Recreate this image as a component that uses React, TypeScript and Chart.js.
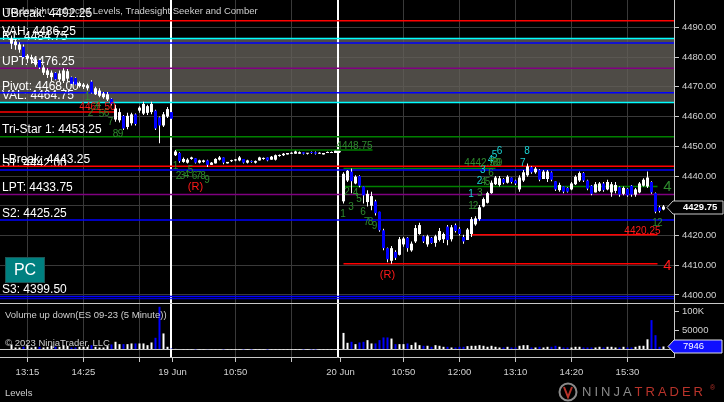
import { useEffect, useRef } from 'react';
import { Chart, registerables } from 'chart.js';

Chart.register(...registerables);

const FONT = "Arial, 'Liberation Sans', Helvetica, sans-serif";

// slot = 5-minute bar index, slot 0 = 16 Jun 13:15 bar
const X_MIN = -6.875;
const X_MAX = X_MIN + 674 / 4;

// [open, high, low, close]
const day1Start = -4;
const day1Bars = [
  [4484.5, 4487.25, 4482.75, 4486.25], [4484.0, 4486.0, 4482.5, 4485.25], [4482.5, 4485.0, 4481.5, 4484.25],
  [4483.5, 4484.25, 4479.5, 4480.0], [4479.5, 4481.0, 4478.0, 4480.5], [4479.25, 4480.75, 4477.75, 4480.0],
  [4477.5, 4479.75, 4476.75, 4479.25], [4479.0, 4479.5, 4476.0, 4476.5], [4474.75, 4477.25, 4474.0, 4476.5],
  [4474.0, 4476.25, 4473.0, 4475.5], [4473.25, 4475.5, 4472.0, 4474.75], [4474.75, 4475.0, 4472.25, 4472.5],
  [4472.5, 4475.5, 4471.75, 4474.5], [4472.0, 4476.25, 4471.25, 4475.5], [4472.75, 4476.0, 4471.75, 4475.25],
  [4473.25, 4473.5, 4470.5, 4471.0], [4473.0, 4473.25, 4470.5, 4470.75], [4470.25, 4471.75, 4469.75, 4471.25],
  [4470.0, 4471.25, 4469.25, 4470.75], [4469.5, 4471.0, 4468.75, 4470.5], [4471.75, 4472.25, 4467.75, 4468.0],
  [4467.5, 4470.0, 4467.25, 4469.5], [4467.0, 4469.5, 4466.5, 4468.75], [4466.5, 4468.25, 4466.0, 4467.75],
  [4465.75, 4468.25, 4465.25, 4467.5], [4466.0, 4466.25, 4463.75, 4464.25], [4459.0, 4464.0, 4458.25, 4462.75],
  [4458.75, 4462.75, 4458.0, 4461.5], [4460.25, 4460.5, 4455.5, 4456.0], [4456.5, 4461.25, 4455.75, 4460.25],
  [4457.75, 4461.25, 4457.0, 4460.75], [4460.75, 4461.0, 4457.0, 4457.5], [4462.0, 4463.5, 4461.25, 4463.0],
  [4461.0, 4465.0, 4460.5, 4464.25], [4461.25, 4464.0, 4460.5, 4463.5], [4461.5, 4465.0, 4460.75, 4464.25],
  [4462.0, 4462.25, 4455.5, 4456.0], [4459.75, 4460.0, 4451.0, 4457.0], [4457.0, 4461.5, 4456.5, 4460.75],
  [4460.0, 4463.25, 4459.5, 4462.5], [4461.5, 4461.75, 4458.75, 4459.25],
];

const day2Start = 37;
const day2Bars = [
  [4447.0, 4448.75, 4446.75, 4448.25], [4447.75, 4448.0, 4444.5, 4445.0], [4444.75, 4446.25, 4444.5, 4445.75],
  [4444.5, 4446.0, 4444.25, 4445.5], [4445.75, 4446.5, 4445.5, 4446.25], [4446.0, 4446.0, 4444.25, 4444.5],
  [4444.5, 4445.5, 4444.25, 4445.25], [4444.75, 4445.5, 4444.5, 4445.25], [4445.25, 4445.5, 4443.0, 4443.75],
  [4443.75, 4444.75, 4443.75, 4444.5], [4444.25, 4446.0, 4444.25, 4445.75], [4445.5, 4446.75, 4445.25, 4446.25],
  [4446.25, 4446.25, 4444.0, 4444.5], [4444.25, 4444.75, 4444.25, 4444.75], [4445.0, 4445.5, 4444.75, 4445.25],
  [4445.25, 4445.75, 4445.0, 4445.5], [4445.25, 4446.75, 4445.0, 4446.25], [4445.75, 4445.75, 4444.25, 4444.5],
  [4444.5, 4445.5, 4444.25, 4445.25], [4445.0, 4445.25, 4444.5, 4444.75], [4444.5, 4445.25, 4444.25, 4445.0],
  [4445.25, 4446.5, 4445.25, 4446.25], [4445.75, 4446.25, 4445.5, 4446.0], [4446.25, 4446.25, 4445.0, 4445.25],
  [4445.5, 4446.75, 4445.5, 4446.5], [4445.5, 4447.25, 4445.25, 4447.0], [4446.75, 4447.25, 4446.5, 4447.0],
  [4447.0, 4447.75, 4446.75, 4447.5], [4447.25, 4447.75, 4447.25, 4447.75], [4447.5, 4448.0, 4447.5, 4447.75],
  [4447.5, 4448.5, 4447.5, 4448.25], [4447.5, 4448.25, 4447.5, 4448.0], [4448.0, 4448.0, 4447.25, 4447.5],
  [4447.5, 4447.75, 4447.25, 4447.75], [4448.0, 4448.25, 4447.5, 4447.75], [4448.0, 4448.25, 4447.25, 4447.5],
  [4447.5, 4448.0, 4447.5, 4447.75], [4447.25, 4447.75, 4447.25, 4447.75], [4447.75, 4448.25, 4447.75, 4448.0],
  [4447.75, 4448.25, 4447.75, 4448.0], [4447.75, 4448.5, 4447.75, 4448.5], [4448.0, 4448.5, 4447.75, 4448.25],
];

const day3Start = 79;
const day3Bars = [
  [4431.5, 4441.25, 4430.75, 4440.75], [4438.5, 4442.0, 4438.0, 4441.75], [4441.5, 4442.5, 4434.25, 4438.25],
  [4437.5, 4440.25, 4437.25, 4439.75], [4440.0, 4440.25, 4436.25, 4436.75], [4436.5, 4436.5, 4430.75, 4433.5],
  [4431.25, 4435.25, 4429.75, 4434.0], [4430.0, 4434.75, 4428.5, 4433.25], [4431.5, 4432.0, 4426.75, 4427.5],
  [4428.0, 4428.0, 4421.25, 4421.75], [4421.75, 4422.25, 4415.0, 4415.75], [4415.75, 4416.0, 4411.0, 4412.0],
  [4411.5, 4416.5, 4410.5, 4415.75], [4414.5, 4415.0, 4411.75, 4412.5], [4413.5, 4419.5, 4413.25, 4418.75],
  [4417.0, 4419.5, 4416.25, 4419.0], [4419.25, 4419.5, 4414.5, 4415.75], [4415.0, 4418.0, 4414.5, 4417.25],
  [4418.0, 4423.5, 4417.5, 4422.5], [4420.5, 4424.25, 4420.25, 4423.5], [4419.75, 4420.0, 4417.5, 4418.0],
  [4417.0, 4420.25, 4416.25, 4419.75], [4419.25, 4419.5, 4417.25, 4417.5], [4417.5, 4420.25, 4416.25, 4419.75],
  [4418.5, 4422.5, 4418.0, 4421.5], [4418.75, 4421.0, 4417.5, 4420.5], [4423.0, 4423.5, 4416.75, 4418.5],
  [4418.75, 4423.5, 4418.0, 4422.75], [4423.5, 4424.0, 4421.0, 4421.5], [4422.25, 4422.75, 4420.0, 4420.5],
  [4419.5, 4420.25, 4417.25, 4418.0], [4418.5, 4422.5, 4418.5, 4422.0], [4420.5, 4426.25, 4419.5, 4425.5],
  [4423.75, 4426.5, 4423.25, 4425.75], [4425.5, 4430.25, 4425.0, 4429.5], [4429.75, 4432.75, 4429.5, 4432.25],
  [4431.0, 4434.75, 4430.75, 4434.25], [4434.25, 4438.5, 4434.0, 4437.75], [4437.25, 4440.0, 4437.0, 4439.5],
  [4437.0, 4440.0, 4436.5, 4439.25], [4439.0, 4439.25, 4437.25, 4437.75], [4437.75, 4440.25, 4437.5, 4439.75],
  [4439.5, 4439.5, 4437.5, 4438.0], [4438.5, 4438.75, 4437.0, 4437.5], [4435.5, 4440.25, 4434.75, 4439.5],
  [4438.5, 4442.0, 4438.0, 4441.25], [4440.25, 4444.25, 4439.75, 4443.25], [4443.0, 4443.25, 4440.75, 4441.25],
  [4441.25, 4443.0, 4440.75, 4442.5], [4442.0, 4442.25, 4438.25, 4438.75], [4439.0, 4442.0, 4439.0, 4441.5],
  [4439.0, 4442.0, 4438.0, 4441.5], [4441.25, 4441.5, 4438.25, 4438.75], [4438.25, 4438.25, 4435.0, 4435.5],
  [4435.25, 4437.75, 4434.75, 4437.0], [4436.5, 4436.5, 4434.25, 4434.75], [4436.0, 4436.25, 4434.5, 4434.75],
  [4435.5, 4438.0, 4435.25, 4437.5], [4437.25, 4440.25, 4437.0, 4439.75], [4438.5, 4441.5, 4438.0, 4441.0],
  [4441.0, 4441.25, 4438.0, 4438.5], [4438.5, 4438.75, 4435.25, 4435.75], [4436.75, 4437.0, 4433.5, 4434.0],
  [4434.5, 4438.0, 4434.5, 4437.25], [4435.0, 4438.0, 4434.75, 4437.5], [4437.5, 4438.0, 4434.75, 4435.25],
  [4435.5, 4438.75, 4435.25, 4438.0], [4434.5, 4438.0, 4433.0, 4437.25], [4435.0, 4438.0, 4434.25, 4437.0],
  [4436.25, 4436.5, 4433.0, 4433.75], [4434.0, 4436.5, 4433.5, 4436.0], [4435.75, 4436.0, 4433.0, 4433.5],
  [4436.75, 4437.0, 4433.0, 4433.75], [4433.75, 4436.0, 4433.0, 4435.5], [4434.5, 4438.0, 4434.25, 4437.5],
  [4436.75, 4439.25, 4436.5, 4438.75], [4436.5, 4441.5, 4436.0, 4439.5], [4438.0, 4438.25, 4434.0, 4434.5],
  [4434.25, 4434.5, 4427.5, 4428.0], [4429.5, 4430.0, 4427.75, 4428.25], [4428.75, 4430.25, 4428.5, 4429.75],
];

// volume, thousands of contracts
const day1Vol = [
  13.3, 5.3, 5.3, 7.1, 11.5, 5.3, 7.1, 7.1, 5.3, 7.1, 9.8, 7.1, 7.1, 11.5, 9.8, 5.3, 5.3, 7.1, 7.1, 7.1,
  11.5, 7.1, 5.3, 5.3, 8.9, 13.3, 20.4, 14.2, 14.2, 14.2, 16, 16, 16, 16, 11.5, 18.6, 31, 113.5, 42.6, 7.1, 2.7,
];
const day2Vol = [
  1.6, 1.3, 0.5, 0.4, 0.5, 0.4, 0.3, 0.4, 1.0, 0.3, 0.3, 0.3, 0.4, 0.2, 0.2, 0.3, 0.3, 0.3, 0.2, 0.2,
  0.2, 0.3, 0.2, 0.2, 0.2, 0.3, 0.2, 0.2, 0.2, 0.2, 0.2, 0.2, 0.2, 0.2, 0.2, 0.2, 0.2, 0.2, 0.2, 0.2, 0.2, 0.2,
];
const day3Vol = [
  44, 17.7, 20.4, 14.2, 18.6, 20.4, 24.8, 16, 16, 24.8, 32, 32, 29, 14.2, 14.2, 14.2, 16, 12, 18.6, 11.5,
  9.8, 9.8, 7.1, 11.5, 9.8, 7.1, 7.1, 5.3, 5.3, 7.1, 7.1, 8.9, 9.8, 9.8, 11.5, 9.8, 7.1, 9.8, 7.1, 5.3,
  5.3, 7.1, 5.3, 5.3, 9.8, 11.5, 11.5, 5.3, 5.3, 7.1, 5.3, 7.1, 7.1, 9.8, 7.1, 5.3, 5.3, 5.3, 7.1, 7.1,
  5.3, 5.3, 5.3, 5.3, 7.1, 5.3, 7.1, 7.1, 5.3, 5.3, 7.1, 5.3, 5.3, 7.1, 9.8, 9.8, 27, 78, 38, 7.1, 7.946,
];

const timeTickSlots = [0, 14, 28, 36.25, 52, 66, 78.25, 94, 108, 122, 136, 150];
const timeTickLabels = ['13:15', '14:25', '', '19 Jun', '10:50', '', '20 Jun', '10:50', '12:00', '13:10', '14:20', '15:30'];
const sessionTickSlots = [36.25, 78.25];
const sessionBreakSlots = [36, 77.75];

const priceTicks = [4400, 4410, 4420, 4430, 4440, 4450, 4460, 4470, 4480, 4490];
const volumeTicks = [0, 50000, 100000];
const volumeTickLabels = ['', '50000', '100K'];

const levelNames = ['UBreak', 'VAH', 'R1', 'UPT', 'Pivot', 'VAL', 'Tri-Star 1', 'LBreak', 'S1', 'LPT', 'S2', 'S3'];
const levelPrices = [4492.25, 4486.25, 4484.75, 4476.25, 4468.0, 4464.75, 4453.25, 4443.25, 4442.0, 4433.75, 4425.25, 4399.5];
const valueArea = [4486.25, 4464.75];

const segmentPrices = [4461.5, 4448.75, 4442.5, 4436.5, 4420.25, 4410.5, 4398.75];
const segmentFrom = [X_MIN, 37, 79, 79, 111, 79, X_MIN];
const segmentTo = [22, 86.25, 117, 157.5, 157.5, 157.5, X_MAX];

const seekerCounts: [string, number, number][] = [
  ['1', 15, 4466.5], ['2', 15.75, 4461.2], ['3', 17, 4463.2], ['4', 17.75, 4463.9], ['5', 18.5, 4460.8],
  ['6', 19.75, 4461.2], ['7', 20.75, 4458.2], ['8', 22, 4454.1], ['9', 23.25, 4454.1],
  ['1', 37, 4443.4], ['2', 37.75, 4440.0], ['3', 38.75, 4440.0], ['4', 39.75, 4440.3], ['5', 40.75, 4441.85],
  ['6', 41.75, 4440.0], ['7', 42.75, 4440.0], ['8', 43.9, 4440.0], ['9', 44.9, 4438.65],
  ['1', 78.9, 4427.2], ['2', 79.9, 4434.4], ['3', 80.9, 4429.6], ['4', 82, 4434.3], ['5', 82.9, 4432.3],
  ['6', 83.9, 4427.8], ['7', 84.75, 4424.3], ['8', 85.75, 4424.3], ['9', 86.75, 4423.2],
  ['1', 110.9, 4429.7], ['2', 112, 4429.7], ['3', 113.1, 4434.2], ['4', 114, 4437.9], ['5', 115, 4437.9],
  ['6', 115.9, 4441.1], ['7', 116, 4444.4], ['8', 117, 4444.4], ['9', 118, 4444.4],
  ['1', 156.9, 4424.1], ['2', 158.1, 4424.1],
];
const comberCounts: [string, number, number][] = [
  ['1', 110.9, 4433.85], ['2', 113, 4438.1], ['3', 113.8, 4441.8], ['4', 115.75, 4445.15],
  ['5', 116.75, 4447.1], ['6', 118, 4448.2], ['7', 123.8, 4444.3], ['8', 124.9, 4448.2],
];
const reversalMarks: [number, number][] = [[42, 4436.3], [90, 4406.7]];
const targetTexts: [string, number, number, string][] = [
  ['4461.50', 22, 4463.2, 'down'], ['4448.75', 86.25, 4450.1, 'up'],
  ['4442.50', 118.25, 4444.4, 'up'], ['4420.25', 158.25, 4421.5, 'down'],
];
const sideCounts: [string, number, number, string][] = [['4', 160, 4436.4, 'up'], ['4', 160, 4409.7, 'down']];

const lastPrice = 4429.75;
const lastVolume = 7946;

// ---- styles ----
const levelColors = ['#ff0000', '#00ffff', '#0000ff', '#800080', '#0000ff', '#00ffff', '#008000', '#ff0000', '#0000ff', '#800080', '#0000ff', '#0000ff'];
const segmentColors = ['#ff0000', '#008000', '#008000', '#008000', '#ff0000', '#ff0000', '#0000ff'];
const GREEN_TXT = '#2e8b2e';
const CYAN_TXT = '#19d2d2';
const RED_TXT = '#ff1a1a';
const AXIS_TXT = '#d2d2d2';
const AXIS_LINE = '#c8c8c8';
const GRID = '#393939';

function buildBars() {
  const out: { s: number; b: number[]; v: number }[] = [];
  day1Bars.forEach((b, i) => out.push({ s: day1Start + i, b, v: day1Vol[i] }));
  day2Bars.forEach((b, i) => out.push({ s: day2Start + i, b, v: day2Vol[i] }));
  day3Bars.forEach((b, i) => out.push({ s: day3Start + i, b, v: day3Vol[i] }));
  return out;
}

const decorPlugin = {
  id: 'ntDecor',
  beforeDraw(chart: any) {
    const { ctx, width, height } = chart;
    ctx.save();
    ctx.fillStyle = '#000000';
    ctx.fillRect(0, 0, width, height);
    ctx.restore();
  },
  beforeDatasetsDraw(chart: any) {
    const { ctx, chartArea, scales } = chart;
    const x = scales.x;
    const y = scales.y;
    ctx.save();
    const top = y.getPixelForValue(valueArea[0]);
    const bot = y.getPixelForValue(valueArea[1]);
    ctx.fillStyle = 'rgba(100,96,90,0.78)';
    ctx.fillRect(chartArea.left, top, chartArea.right - chartArea.left, bot - top);

    ctx.fillStyle = '#ffffff';
    for (const s of sessionBreakSlots) {
      const px = Math.floor(x.getPixelForValue(s));
      ctx.fillRect(px - 1, chartArea.top, 2, chartArea.bottom - chartArea.top);
    }

    ctx.font = `12px ${FONT}`;
    ctx.textAlign = 'left';
    ctx.textBaseline = 'middle';
    ctx.fillStyle = '#ffffff';
    levelNames.forEach((n, i) => {
      ctx.fillText(`${n}: ${levelPrices[i].toFixed(2)}`, chartArea.left + 2, y.getPixelForValue(levelPrices[i]) - 6.5);
    });
    ctx.restore();
  },
  afterDatasetsDraw(chart: any) {
    const { ctx, chartArea, scales } = chart;
    const x = scales.x;
    const y = scales.y;
    const yv = scales.yv;
    ctx.save();
    ctx.textBaseline = 'middle';
    ctx.textAlign = 'center';
    ctx.font = `10px ${FONT}`;
    ctx.fillStyle = GREEN_TXT;
    seekerCounts.forEach(([t, s, p]) => ctx.fillText(t, x.getPixelForValue(s), y.getPixelForValue(p)));
    ctx.fillStyle = CYAN_TXT;
    comberCounts.forEach(([t, s, p]) => ctx.fillText(t, x.getPixelForValue(s), y.getPixelForValue(p)));
    ctx.font = `11px ${FONT}`;
    ctx.fillStyle = RED_TXT;
    reversalMarks.forEach(([s, p]) => ctx.fillText('(R)', x.getPixelForValue(s), y.getPixelForValue(p)));
    ctx.textAlign = 'right';
    ctx.font = `10px ${FONT}`;
    targetTexts.forEach(([t, s, p, k]) => {
      ctx.fillStyle = k === 'up' ? GREEN_TXT : RED_TXT;
      ctx.fillText(t, x.getPixelForValue(s), y.getPixelForValue(p));
    });
    ctx.textAlign = 'center';
    ctx.font = `15px ${FONT}`;
    sideCounts.forEach(([t, s, p, k]) => {
      ctx.fillStyle = k === 'up' ? GREEN_TXT : RED_TXT;
      ctx.fillText(t, x.getPixelForValue(s), y.getPixelForValue(p));
    });

    // PC button
    ctx.fillStyle = '#008080';
    ctx.fillRect(chartArea.left + 5, 257, 40, 26);
    ctx.strokeStyle = '#1d5555';
    ctx.lineWidth = 1;
    ctx.strokeRect(chartArea.left + 5.5, 257.5, 39, 25);
    ctx.fillStyle = '#ffffff';
    ctx.font = `16px ${FONT}`;
    ctx.textAlign = 'center';
    ctx.fillText('PC', chartArea.left + 25, 270.5);

    // indicator titles
    ctx.textAlign = 'left';
    ctx.font = `9.5px ${FONT}`;
    ctx.fillStyle = '#cfcfcf';
    ctx.fillText('Tradesight Enforced Levels, Tradesight Seeker and Comber', chartArea.left + 5, 11);
    ctx.fillText('Volume up down(ES 09-23 (5 Minute))', chartArea.left + 5, yv.top + 12);
    ctx.fillText('\u00a9 2023 NinjaTrader, LLC', chartArea.left + 5, yv.top + 40);

    // last price marker
    const right = chartArea.right;
    const py = Math.round(y.getPixelForValue(lastPrice)) + 0.5;
    ctx.beginPath();
    ctx.moveTo(right - 7, py);
    ctx.lineTo(right - 1, py - 6.5);
    ctx.lineTo(right + 49, py - 6.5);
    ctx.lineTo(right + 49, py + 6.5);
    ctx.lineTo(right - 1, py + 6.5);
    ctx.closePath();
    ctx.fillStyle = '#000000';
    ctx.fill();
    ctx.strokeStyle = AXIS_LINE;
    ctx.stroke();
    ctx.fillStyle = '#ffffff';
    ctx.font = `bold 9.5px ${FONT}`;
    ctx.fillText(lastPrice.toFixed(2), right + 9, py);

    // last volume marker
    const vy = Math.round(yv.getPixelForValue(lastVolume)) + 0.5;
    ctx.beginPath();
    ctx.moveTo(right - 6, vy);
    ctx.lineTo(right, vy - 6.5);
    ctx.lineTo(right + 48, vy - 6.5);
    ctx.lineTo(right + 48, vy + 6.5);
    ctx.lineTo(right, vy + 6.5);
    ctx.closePath();
    ctx.fillStyle = '#1010ff';
    ctx.fill();
    ctx.strokeStyle = '#e0e0e0';
    ctx.stroke();
    ctx.fillStyle = '#ffffff';
    ctx.font = `9.5px ${FONT}`;
    ctx.fillText(String(lastVolume), right + 9, vy);
    ctx.restore();
  },
  afterDraw(chart: any) {
    const { ctx, width, scales } = chart;
    const yv = scales.yv;
    ctx.save();
    ctx.strokeStyle = AXIS_LINE;
    ctx.lineWidth = 1;
    ctx.beginPath();
    const sy = Math.round(yv.top) + 0.5;
    ctx.moveTo(0, sy);
    ctx.lineTo(width, sy);
    ctx.stroke();

    ctx.fillStyle = '#cfcfcf';
    ctx.font = `9.5px ${FONT}`;
    ctx.textAlign = 'left';
    ctx.textBaseline = 'middle';
    ctx.fillText('Levels', 5, 393);

    // NinjaTrader watermark
    const lx = 568;
    const ly = 392;
    ctx.strokeStyle = '#8a8a8a';
    ctx.lineWidth = 2;
    ctx.beginPath();
    ctx.arc(lx, ly, 8.5, 0, Math.PI * 2);
    ctx.stroke();
    ctx.strokeStyle = '#b8332a';
    ctx.beginPath();
    ctx.moveTo(lx - 4, ly - 5);
    ctx.lineTo(lx, ly + 5);
    ctx.lineTo(lx + 4, ly - 5);
    ctx.stroke();
    ctx.font = `13px ${FONT}`;
    (ctx as any).letterSpacing = '3px';
    ctx.fillStyle = '#8a8a8a';
    ctx.fillText('NINJA', 582, ly + 0.5);
    const w = ctx.measureText('NINJA').width;
    ctx.fillStyle = '#b8332a';
    ctx.fillText('TRADER', 582 + w, ly + 0.5);
    (ctx as any).letterSpacing = '0px';
    ctx.font = `7px ${FONT}`;
    ctx.fillText('\u00ae', 710, ly - 4);
    ctx.restore();
  },
};

export default function App() {
  const ref = useRef<HTMLCanvasElement | null>(null);

  useEffect(() => {
    document.body.style.margin = '0';
    document.body.style.background = '#000';
    Chart.defaults.font.family = FONT;

    const bars = buildBars();
    const isUp = (b: number[]) => b[3] >= b[0];

    const levelSets = levelPrices.map((p, i) => ({
      type: 'line' as const,
      data: [{ x: X_MIN, y: p }, { x: X_MAX, y: p }],
      borderColor: levelColors[i],
      borderWidth: 1.5,
      pointRadius: 0,
      fill: false,
      yAxisID: 'y',
      order: 5,
    }));
    const segSets = segmentPrices.map((p, i) => ({
      type: 'line' as const,
      data: [{ x: segmentFrom[i], y: p }, { x: segmentTo[i], y: p }],
      borderColor: segmentColors[i],
      borderWidth: i === segmentPrices.length - 1 ? 1 : 1.5,
      pointRadius: 0,
      fill: false,
      yAxisID: 'y',
      order: 5,
    }));

    const chart = new Chart(ref.current as HTMLCanvasElement, {
      type: 'bar',
      data: {
        datasets: [
          ...levelSets,
          ...segSets,
          {
            type: 'bar',
            data: bars.map((d) => ({ x: d.s, y: [d.b[2], d.b[1]] })),
            backgroundColor: '#ffffff',
            barThickness: 1,
            grouped: false,
            borderWidth: 0,
            inflateAmount: 0,
            minBarLength: 1,
            yAxisID: 'y',
            order: 2,
          },
          {
            type: 'bar',
            data: bars.map((d) => ({ x: d.s, y: [d.b[0], d.b[3]] })),
            backgroundColor: bars.map((d) => (isUp(d.b) ? '#ffffff' : '#0000ff')),
            barThickness: 3,
            grouped: false,
            borderWidth: 0,
            inflateAmount: 0,
            minBarLength: 1,
            yAxisID: 'y',
            order: 1,
          },
          {
            type: 'bar',
            data: bars.map((d) => ({ x: d.s, y: d.v * 1000 })),
            backgroundColor: bars.map((d) => (isUp(d.b) ? '#ffffff' : '#0000ff')),
            barThickness: 2,
            grouped: false,
            borderWidth: 0,
            inflateAmount: 0,
            yAxisID: 'yv',
            order: 0,
          },
        ] as any,
      },
      options: {
        responsive: false,
        animation: false,
        events: [],
        layout: { padding: 0 },
        plugins: { legend: { display: false }, tooltip: { enabled: false }, title: { display: false } },
        scales: {
          x: {
            type: 'linear',
            min: X_MIN,
            max: X_MAX,
            offset: false,
            bounds: 'data',
            grid: {
              offset: false,
              color: (c: any) => (c.tick && sessionTickSlots.includes(c.tick.value) ? 'rgba(0,0,0,0)' : GRID),
              drawTicks: true,
              tickLength: 5,
              tickColor: AXIS_LINE,
            },
            border: { display: true, color: AXIS_LINE, width: 1 },
            ticks: {
              autoSkip: false,
              maxRotation: 0,
              minRotation: 0,
              color: AXIS_TXT,
              font: { size: 9.5, family: FONT },
              padding: 5,
              callback: (_v: any, i: number) => timeTickLabels[i] ?? '',
            },
            afterBuildTicks: (s: any) => {
              s.ticks = timeTickSlots.map((v) => ({ value: v }));
            },
            afterFit: (s: any) => {
              s.height = 45;
              s.paddingLeft = 0;
              s.paddingRight = 0;
              s.paddingTop = 0;
              s.paddingBottom = 0;
            },
          },
          y: {
            type: 'linear',
            position: 'right',
            stack: 'panes',
            stackWeight: 303,
            min: 4397.3,
            max: 4499.2,
            bounds: 'data',
            beginAtZero: false,
            grid: { color: GRID, drawTicks: true, tickLength: 5, tickColor: AXIS_LINE },
            border: { display: true, color: AXIS_LINE, width: 1 },
            ticks: {
              autoSkip: false,
              color: AXIS_TXT,
              font: { size: 9.5, family: FONT },
              padding: 3,
              callback: (v: any) => Number(v).toFixed(2),
            },
            afterBuildTicks: (s: any) => {
              s.ticks = priceTicks.map((v) => ({ value: v }));
            },
            afterFit: (s: any) => {
              s.width = 50;
              s.paddingTop = 0;
              s.paddingBottom = 0;
            },
          },
          yv: {
            type: 'linear',
            position: 'right',
            stack: 'panes',
            stackWeight: 54,
            min: -20000,
            max: 123500,
            bounds: 'data',
            beginAtZero: false,
            grid: {
              color: (c: any) => (c.tick && c.tick.value === 0 ? AXIS_LINE : 'rgba(0,0,0,0)'),
              drawTicks: true,
              tickLength: 5,
              tickColor: (c: any) => (c.tick && c.tick.value === 0 ? 'rgba(0,0,0,0)' : AXIS_LINE),
            },
            border: { display: true, color: AXIS_LINE, width: 1 },
            ticks: {
              autoSkip: false,
              color: AXIS_TXT,
              font: { size: 9.5, family: FONT },
              padding: 3,
              callback: (_v: any, i: number) => volumeTickLabels[i] ?? '',
            },
            afterBuildTicks: (s: any) => {
              s.ticks = volumeTicks.map((v) => ({ value: v }));
            },
            afterFit: (s: any) => {
              s.width = 50;
              s.paddingTop = 0;
              s.paddingBottom = 0;
            },
          },
        },
      } as any,
      plugins: [decorPlugin],
    });
    return () => chart.destroy();
  }, []);

  return (
    <div style={{ position: 'fixed', left: 0, top: 0, width: 724, height: 402, background: '#000' }}>
      <canvas ref={ref} width={724} height={402} style={{ display: 'block', width: 724, height: 402 }} />
    </div>
  );
}
